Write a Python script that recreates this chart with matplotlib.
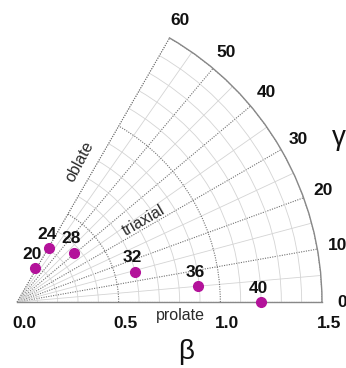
import numpy as np
import matplotlib.pyplot as plt
from matplotlib import transforms

# shape parameters
nuclei = ['20', '24', '28', '32', '36', '40']
beta = [0.19, 0.31, 0.37, 0.60, 0.895, 1.20]
gamma = [62, 59, 41, 14.4, 5.1, 0]

gamma_ticks = [0, 10, 20, 30, 40, 50, 60]
beta_ticks = [0.0, 0.5, 1.0, 1.5]
beta_labels = ['0.0', '0.5', '1.0', '1.5']

plt.rcParams['font.family'] = ['Liberation Sans', 'DejaVu Sans']

fig = plt.figure(figsize=(3.46, 3.68), dpi=100)
ax = fig.add_axes([17/346, 45.5/368, 305/346, 305/368], projection='polar')
ax.set_thetamin(0)
ax.set_thetamax(60)
ax.set_rlim(0, 1.5)

# grid: light minor lines, dotted darker major lines
ax.set_xticks(np.radians(gamma_ticks))
ax.set_xticks(np.radians(np.arange(5, 60, 10)), minor=True)
ax.set_yticks([0.5, 1.0, 1.5])
ax.set_yticks(np.arange(0.1, 1.5, 0.1), minor=True)
ax.set_xticklabels([])
ax.set_yticklabels([])
dotted = (0, (1, 1.2))
ax.grid(which='major', color='#707070', lw=0.8, ls=dotted)
ax.grid(which='minor', color='#d4d4d4', lw=0.6, ls='-')
ax.tick_params(axis='x', which='both', length=3, direction='out', color='#909090', width=0.6)
ax.tick_params(axis='y', which='both', length=0, width=0)
ax.spines['inner'].set_color('none')
ax.spines['end'].set_color('none')
ax.spines['polar'].set_color('#888888')
ax.spines['polar'].set_linewidth(1.0)
ax.spines['start'].set_color('#888888')
ax.spines['start'].set_linewidth(1.0)
ax.set_axisbelow(True)

# oblate edge (gamma = 60) as a dotted line, not clipped
t60 = np.radians(gamma_ticks[-1])
ax.plot([t60, t60], [0, 1.5], color='#707070', lw=0.8, ls=dotted, clip_on=False, zorder=1)

th = np.radians(gamma)
ax.plot(th, beta, 'o', color='#b3129a', ms=7, clip_on=False, zorder=5)
for name, t, b in zip(nuclei, th, beta):
    ax.annotate(name, (t, b), xytext=(-2, 10), textcoords='offset points',
                ha='center', va='center', fontsize=12.5, fontweight='bold',
                color='#111111', annotation_clip=False)

# gamma labels round the outer arc
for g in gamma_ticks:
    ax.text(np.radians(g), 1.6, str(g), ha='center', va='center',
            fontsize=12.5, fontweight='bold', color='#111111')

# beta labels under the base line
shift = transforms.offset_copy(ax.transData, fig=fig, x=7, y=-21, units='dots')
for b, lab in zip(beta_ticks, beta_labels):
    ax.text(0, b, lab, transform=shift, ha='center', va='center',
            fontsize=12.5, fontweight='bold', color='#111111')

ax.text(np.radians(65.8), 0.756, 'oblate', rotation=62, ha='center', va='center',
        fontsize=11.5, color='#2a2a2a')
ax.text(np.radians(33), 0.74, 'triaxial', rotation=30, ha='center', va='center',
        fontsize=11.5, color='#2a2a2a')
ax.text(np.radians(-4.6), 0.805, 'prolate', ha='center', va='center',
        fontsize=11.5, color='#2a2a2a')

fig.text(186/346, 1 - 352/368, 'β', ha='center', va='center', fontsize=20,
         color='#111111')
fig.text(339/346, 1 - 138/368, 'γ', ha='center', va='center', fontsize=20,
         color='#111111')

fig.savefig('out.png', dpi=100)
